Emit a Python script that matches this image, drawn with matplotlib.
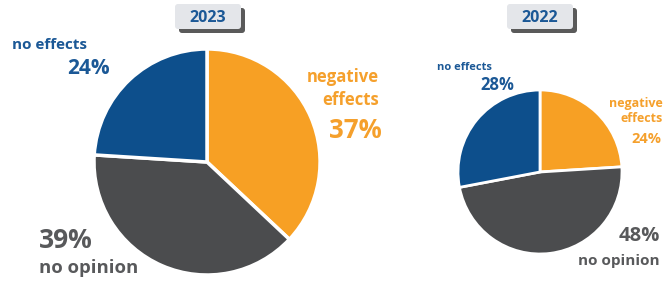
import matplotlib
matplotlib.use("Agg")
import matplotlib.pyplot as plt
from matplotlib.patches import FancyBboxPatch

categories = ["negative effects", "no opinion", "no effects"]
values_2023 = [37, 39, 24]
values_2022 = [24, 48, 28]
years = ["2023", "2022"]

ORANGE = "#f7a024"
GRAY = "#4b4c4e"
BLUE = "#0d4f8c"
colors = [ORANGE, GRAY, BLUE]
TXT_BLUE = "#1b5896"
TXT_ORANGE = "#f5a02c"
TXT_GRAY = "#58595b"

plt.rcParams['font.family'] = ['Open Sans', 'DejaVu Sans']

W, H = 668, 286
fig = plt.figure(figsize=(W / 100, H / 100), dpi=100)
ax = fig.add_axes([0, 0, 1, 1])


def Y(y):
    return H - y


ax.pie(values_2023, colors=colors, startangle=90, counterclock=False,
       center=(207, Y(162)), radius=113, explode=[0.07, 0, 0],
       wedgeprops=dict(edgecolor='white', linewidth=2.5))
ax.pie(values_2022, colors=colors, startangle=90, counterclock=False,
       center=(540, Y(172)), radius=82, explode=[0.06, 0, 0],
       wedgeprops=dict(edgecolor='white', linewidth=2))

ax.set_xlim(0, W)
ax.set_ylim(0, H)
ax.set_aspect('equal')
ax.axis('off')


def year_box(x0, y0, w, h, text):
    sh = FancyBboxPatch((x0 + 4, Y(y0 + h) - 4), w, h,
                        boxstyle="round,pad=0,rounding_size=3",
                        fc="#5a5a5a", ec="none", zorder=3)
    bx = FancyBboxPatch((x0, Y(y0 + h)), w, h,
                        boxstyle="round,pad=0,rounding_size=3",
                        fc="#e4e6ea", ec="none", zorder=4)
    ax.add_patch(sh)
    ax.add_patch(bx)
    ax.text(x0 + w / 2, Y(y0 + h / 2) - 1, text, ha='center', va='center',
            fontsize=11.5, fontweight='bold', color=TXT_BLUE, zorder=5)


year_box(175, 4, 66, 25, years[0])
year_box(507, 4, 66, 25, years[1])

# 2023 labels
ax.text(12, Y(45), "no effects", ha='left', va='center', fontsize=11,
        fontweight='bold', color=TXT_BLUE)
ax.text(110, Y(68), f"{values_2023[2]}%", ha='right', va='center', fontsize=15,
        fontweight='bold', color=TXT_BLUE)
ax.text(379, Y(77), "negative", ha='right', va='center', fontsize=12,
        fontweight='bold', color=TXT_ORANGE)
ax.text(379, Y(100), "effects", ha='right', va='center', fontsize=12,
        fontweight='bold', color=TXT_ORANGE)
ax.text(382, Y(130), f"{values_2023[0]}%", ha='right', va='center', fontsize=18.5,
        fontweight='bold', color=TXT_ORANGE)
ax.text(39, Y(240), f"{values_2023[1]}%", ha='left', va='center', fontsize=19,
        fontweight='bold', color=TXT_GRAY)
ax.text(39, Y(268), "no opinion", ha='left', va='center', fontsize=13.3,
        fontweight='bold', color=TXT_GRAY)

# 2022 labels
ax.text(437, Y(68), "no effects", ha='left', va='center', fontsize=8,
        fontweight='bold', color=TXT_BLUE)
ax.text(514, Y(85), f"{values_2022[2]}%", ha='right', va='center', fontsize=12,
        fontweight='bold', color=TXT_BLUE)
ax.text(663, Y(104), "negative", ha='right', va='center', fontsize=9,
        fontweight='bold', color=TXT_ORANGE)
ax.text(663, Y(119), "effects", ha='right', va='center', fontsize=9,
        fontweight='bold', color=TXT_ORANGE)
ax.text(661, Y(139), f"{values_2022[0]}%", ha='right', va='center', fontsize=10.5,
        fontweight='bold', color=TXT_ORANGE)
ax.text(660, Y(236), f"{values_2022[1]}%", ha='right', va='center', fontsize=14.5,
        fontweight='bold', color=TXT_GRAY)
ax.text(660, Y(261), "no opinion", ha='right', va='center', fontsize=11,
        fontweight='bold', color=TXT_GRAY)

fig.savefig("out.png", dpi=100, facecolor='white')
